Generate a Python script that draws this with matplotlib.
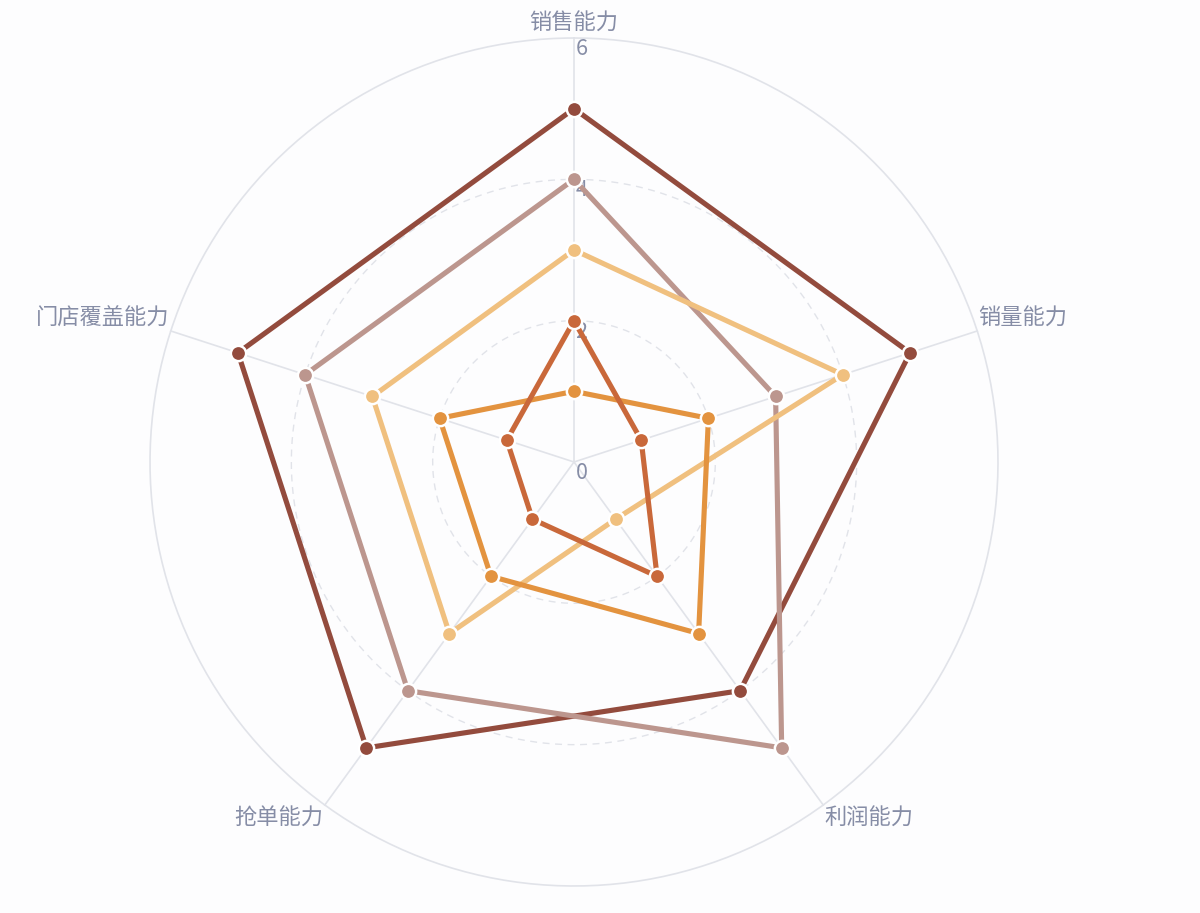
import numpy as np
import matplotlib
matplotlib.use("Agg")
import matplotlib.pyplot as plt

plt.rcParams['font.family'] = ['Noto Sans CJK SC', 'DejaVu Sans']

# indicators, clockwise from the top
indicators = ["销售能力", "销量能力", "利润能力", "抢单能力", "门店覆盖能力"]
max_value = 6
ring_values = [0, 2, 4, 6]

# series values
s1 = [5, 5, 4, 5, 5]
s2 = [4, 3, 5, 4, 4]
s3 = [3, 4, 1, 3, 3]
s4 = [1, 2, 3, 2, 2]
s5 = [2, 1, 2, 1, 1]
series = [s1, s2, s3, s4, s5]
colors = ["#934B3D", "#BC968E", "#F0C07F", "#E3933F", "#C9683A"]

text_color = "#868DA6"
grid_color = "#E1E3E9"
bg = "#FDFDFE"

fig = plt.figure(figsize=(12, 9.13), dpi=100, facecolor=bg)
# center ~ (574, 462) px, radius ~ 424 px
ax = fig.add_axes([150 / 1200, 27 / 913, 848 / 1200, 848 / 913], projection="polar")
ax.set_facecolor("none")
ax.set_theta_offset(np.pi / 2)
ax.set_theta_direction(-1)
ax.set_ylim(0, max_value)
ax.grid(False)
ax.spines["polar"].set_visible(False)
ax.set_xticks([])
ax.set_yticks([])

n = len(indicators)
angles = np.arange(n) * 2 * np.pi / n

# rings
full = np.linspace(0, 2 * np.pi, 400)
for v in ring_values[1:]:
    if v == max_value:
        ax.plot(full, [v] * len(full), color=grid_color, lw=1.2, zorder=1, clip_on=False)
    else:
        ax.plot(full, [v] * len(full), color=grid_color, lw=1.0, ls=(0, (5, 4)), zorder=1)

# spokes
for a in angles:
    ax.plot([a, a], [0, max_value], color=grid_color, lw=1.2, zorder=1, clip_on=False)

# value labels along first axis
for v in ring_values:
    ax.annotate(str(v), xy=(0, v), xytext=(1.0, 0), textcoords="offset points",
                ha="left", va="top", fontsize=15.5, color=text_color, zorder=2)

# indicator names
name_pos = [
    ("center", "bottom", (0, 2)),
    ("left", "bottom", (1, 1)),
    ("left", "top", (1, -1)),
    ("right", "top", (-1, -1)),
    ("right", "bottom", (-1, 1)),
]
for a, name, (ha, va, off) in zip(angles, indicators, name_pos):
    ax.annotate(name, xy=(a, max_value), xytext=off, textcoords="offset points",
                ha=ha, va=va, fontsize=16, color=text_color, annotation_clip=False)

# series
for vals, c in zip(series, colors):
    th = np.append(angles, angles[0])
    rr = vals + [vals[0]]
    ax.plot(th, rr, color=c, lw=3.7, zorder=3, solid_joinstyle="miter")
    ax.plot(angles, vals, ls="none", marker="o", ms=11, mfc=c,
            mec="white", mew=1.8, zorder=4)

fig.savefig("out.png", dpi=100, facecolor=bg)
